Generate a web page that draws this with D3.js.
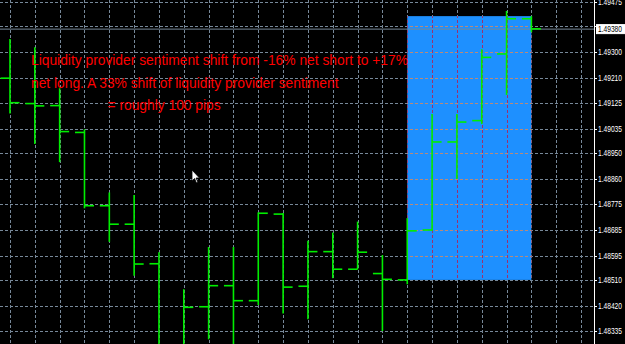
<!DOCTYPE html>
<html>
<head>
<meta charset="utf-8">
<script src="https://cdn.jsdelivr.net/npm/d3@7"></script>
<style>
  html, body { margin: 0; padding: 0; background: #000; }
  svg { display: block; }
</style>
</head>
<body>
<svg id="chart" width="625" height="344"></svg>
<script>
(function () {
  'use strict';

  // OHLC bars, oldest first
  var opens  = [1.49210, 1.49122, 1.49115, 1.49022, 1.48768, 1.48704, 1.48567, 1.48268, 1.48418, 1.48491, 1.48439,
                1.48739, 1.48489, 1.48609, 1.48548, 1.48533, 1.48511, 1.48684, 1.48989, 1.49063, 1.49294, 1.49416];
  var highs  = [1.49346, 1.49317, 1.49175, 1.49033, 1.48814, 1.48805, 1.48607, 1.48479, 1.48625, 1.48625, 1.48745,
                1.48743, 1.48647, 1.48675, 1.48713, 1.48597, 1.48725, 1.49086, 1.49086, 1.49310, 1.49443, 1.49425];
  var lows   = [1.49088, 1.48982, 1.48919, 1.48759, 1.48643, 1.48525, 1.48234, 1.48216, 1.48305, 1.48251, 1.48424,
                1.48395, 1.48375, 1.48517, 1.48548, 1.48334, 1.48496, 1.48681, 1.48861, 1.49051, 1.49152, 1.49369];
  var closes = [1.49125, 1.49114, 1.49025, 1.48768, 1.48704, 1.48566, 1.48261, 1.48416, 1.48491, 1.48439, 1.48742,
                1.48486, 1.48609, 1.48548, 1.48607, 1.48513, 1.48681, 1.48989, 1.49058, 1.49282, 1.49416, 1.49381];

  // price scale labels (the 1.49390 one sits under the bid label)
  var priceTicks = ['1.49475', '1.49390', '1.49300', '1.49210', '1.49125', '1.49035', '1.48950',
                    '1.48860', '1.48775', '1.48685', '1.48595', '1.48510', '1.48420', '1.48335'];

  var bidPrice = 1.49380;

  // highlighted zone: bar range and price range
  var zoneBars = [16, 21];
  var zonePrices = [1.48511, 1.49425];

  var noteLines = [
    'Liquidity provider sentiment shift from -16% net short to +17%',
    'net long. A 33% shift of liquidity provider sentiment',
    '= roughly 100 pips'
  ];

  var width = 625, height = 344, plotRight = 594;
  var gridColor = '#778899', barColor = '#00ee00';
  var axisFont = '"Liberation Sans Narrow", "Arial Narrow", "Liberation Sans", sans-serif';

  var svg = d3.select('#chart');

  var x = d3.scaleLinear().domain([0, 21]).range([10, 531.4]);
  var y = d3.scaleLinear().domain([1.48335, 1.49475]).range([330.7, 1.7]);

  var gridX = d3.range(0, 24);

  svg.append('rect').attr('width', width).attr('height', height).attr('fill', '#000');

  // zone rectangle
  var zx0 = x(zoneBars[0]), zx1 = x(zoneBars[1]);
  var zy0 = y(zonePrices[1]), zy1 = y(zonePrices[0]);

  svg.append('defs').append('clipPath').attr('id', 'zoneClip')
    .append('rect')
    .attr('x', zx0).attr('y', zy0)
    .attr('width', zx1 - zx0).attr('height', zy1 - zy0);

  svg.append('rect')
    .attr('x', zx0).attr('y', zy0)
    .attr('width', zx1 - zx0).attr('height', zy1 - zy0)
    .attr('fill', '#1e90ff');

  function drawGrid(parent, hColor, vColor) {
    parent.selectAll('line.h')
      .data(priceTicks)
      .enter().append('line')
      .attr('class', 'h')
      .attr('x1', 0).attr('x2', plotRight)
      .attr('y1', function (d) { return Math.round(y(+d)) + 0.5; })
      .attr('y2', function (d) { return Math.round(y(+d)) + 0.5; })
      .attr('stroke', hColor)
      .attr('stroke-dasharray', '3,2');

    parent.selectAll('line.v')
      .data(gridX)
      .enter().append('line')
      .attr('class', 'v')
      .attr('y1', 0).attr('y2', height)
      .attr('x1', function (d) { return Math.round(x(d)) + 0.5; })
      .attr('x2', function (d) { return Math.round(x(d)) + 0.5; })
      .attr('stroke', vColor)
      .attr('stroke-dasharray', '3,2');
  }

  drawGrid(svg.append('g'), gridColor, gridColor);
  drawGrid(svg.append('g').attr('clip-path', 'url(#zoneClip)'), '#b88a7a', '#9a3070');

  // bid line
  svg.append('line')
    .attr('x1', 0).attr('x2', plotRight)
    .attr('y1', y(bidPrice)).attr('y2', y(bidPrice))
    .attr('stroke', gridColor)
    .attr('stroke-width', 1);

  // bars
  var bars = svg.append('g')
    .attr('stroke', barColor)
    .attr('stroke-width', 1.6)
    .selectAll('g')
    .data(opens.map(function (o, i) {
      return { i: i, o: o, h: highs[i], l: lows[i], c: closes[i] };
    }))
    .enter().append('g');

  bars.append('line')
    .attr('x1', function (d) { return x(d.i); })
    .attr('x2', function (d) { return x(d.i); })
    .attr('y1', function (d) { return y(d.h); })
    .attr('y2', function (d) { return y(d.l); });

  bars.append('line')
    .attr('x1', function (d) { return x(d.i) - 9.5; })
    .attr('x2', function (d) { return x(d.i); })
    .attr('y1', function (d) { return y(d.o); })
    .attr('y2', function (d) { return y(d.o); });

  bars.append('line')
    .attr('x1', function (d) { return x(d.i); })
    .attr('x2', function (d) { return x(d.i) + 9.5; })
    .attr('y1', function (d) { return y(d.c); })
    .attr('y2', function (d) { return y(d.c); });

  // annotation
  var noteX = [31, 31, 107.5];
  var noteY = [65, 87.5, 110];
  svg.append('g')
    .selectAll('text')
    .data(noteLines)
    .enter().append('text')
    .attr('x', function (d, i) { return noteX[i]; })
    .attr('y', function (d, i) { return noteY[i]; })
    .attr('fill', '#ff0000')
    .style('font-family', '"Liberation Sans", Arial, sans-serif')
    .style('font-size', '13.8px')
    .text(function (d) { return d; });

  // price axis
  svg.append('line')
    .attr('x1', plotRight + 0.5).attr('x2', plotRight + 0.5)
    .attr('y1', 0).attr('y2', height)
    .attr('stroke', '#fff');

  var bidY = y(bidPrice);
  var shownTicks = priceTicks.filter(function (d) { return Math.abs(y(+d) - bidY) > 6; });

  var axis = svg.append('g');
  axis.selectAll('line')
    .data(priceTicks)
    .enter().append('line')
    .attr('x1', plotRight).attr('x2', plotRight + 3)
    .attr('y1', function (d) { return Math.round(y(+d)) + 0.5; })
    .attr('y2', function (d) { return Math.round(y(+d)) + 0.5; })
    .attr('stroke', '#fff');

  axis.selectAll('text')
    .data(shownTicks)
    .enter().append('text')
    .attr('x', 598)
    .attr('y', function (d) { return y(+d) + 3; })
    .attr('fill', '#fff')
    .attr('textLength', 24)
    .attr('lengthAdjust', 'spacingAndGlyphs')
    .style('font-family', axisFont)
    .style('font-size', '8.3px')
    .text(function (d) { return d; });

  // bid label
  svg.append('rect')
    .attr('x', 596.5).attr('y', bidY - 4.5)
    .attr('width', 30).attr('height', 9)
    .attr('fill', '#fff')
    .attr('stroke', '#fff');
  svg.append('text')
    .attr('x', 598)
    .attr('y', bidY + 3)
    .attr('fill', '#000')
    .attr('textLength', 24)
    .attr('lengthAdjust', 'spacingAndGlyphs')
    .style('font-family', axisFont)
    .style('font-size', '8.3px')
    .text(bidPrice.toFixed(5));

  // mouse pointer left in the screenshot
  svg.append('path')
    .attr('transform', 'translate(192,170)')
    .attr('d', 'M0,0 L0,11 L2.5,8.5 L4.5,13 L6,12.3 L4,8 L7.5,8 Z')
    .attr('fill', '#fff')
    .attr('stroke', '#000')
    .attr('stroke-width', 0.8);
}());
</script>
</body>
</html>
